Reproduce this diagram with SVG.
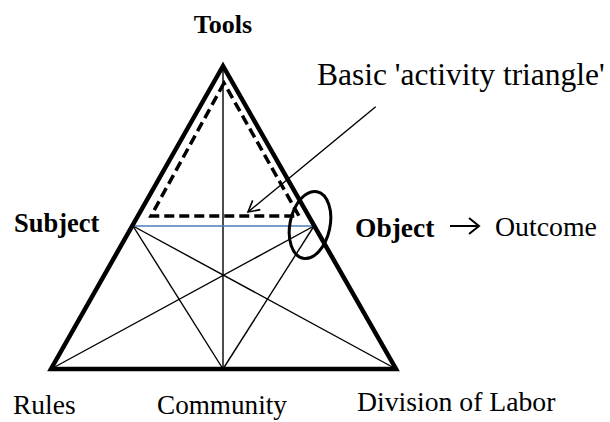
<svg xmlns="http://www.w3.org/2000/svg" width="610" height="422" viewBox="0 0 610 422">
<style>
.t{font-family:"Liberation Serif","Times New Roman",Times,serif;fill:#000}
.b{font-weight:bold}
.thin{stroke:#000;stroke-width:1.4;fill:none}
</style>
<defs>
<marker id="open" markerWidth="14" markerHeight="14" refX="12" refY="7" orient="auto" markerUnits="userSpaceOnUse">
<path d="M1,1 L12,7 L1,13" fill="none" stroke="#000" stroke-width="1.6"/>
</marker>
</defs>
<rect width="610" height="422" fill="#fff"/>
<g id="connectors">
<line class="thin" x1="223" y1="66" x2="223" y2="369"/>
<line class="thin" x1="133" y1="226" x2="223" y2="369"/>
<line class="thin" x1="133" y1="226" x2="396" y2="369"/>
<line class="thin" x1="314" y1="226" x2="223" y2="369"/>
<line class="thin" x1="314" y1="226" x2="51" y2="369"/>
<line x1="133" y1="226" x2="314" y2="226" stroke="#4a7ebb" stroke-width="1.6"/>
<polygon points="224,83 151,216 299,216" fill="none" stroke="#000" stroke-width="3.5" stroke-dasharray="10,5"/>
<polygon points="223,66 51,369 396,369" fill="none" stroke="#000" stroke-width="4.5" stroke-linejoin="miter"/>
<line x1="375.7" y1="106.7" x2="248" y2="212" stroke="#000" stroke-width="1.4" marker-end="url(#open)"/>
<ellipse cx="310" cy="225" rx="20" ry="34" transform="rotate(12 310 225)" fill="none" stroke="#000" stroke-width="3"/>
<path d="M450,226 H479 M469,218 L479,226 L469,234" fill="none" stroke="#000" stroke-width="2"/>
</g>
<g id="tools"><text class="t b" x="223" y="33" font-size="26" text-anchor="middle" font-family="Liberation Serif, serif">Tools</text></g>
<g id="subject"><text class="t b" x="14" y="232" font-size="26.5" font-family="Liberation Serif, serif">Subject</text></g>
<g id="object"><text class="t b" x="355" y="237" font-size="27.5" font-family="Liberation Serif, serif">Object</text></g>
<g id="outcome"><text class="t" x="495" y="236" font-size="27.8" font-family="Liberation Serif, serif">Outcome</text></g>
<g id="basic"><text class="t" x="317" y="85" font-size="31.5" font-family="Liberation Serif, serif">Basic 'activity triangle'</text></g>
<g id="rules"><text class="t" x="13" y="414" font-size="27.5" font-family="Liberation Serif, serif">Rules</text></g>
<g id="community"><text class="t" x="157" y="414" font-size="27.2" font-family="Liberation Serif, serif">Community</text></g>
<g id="division"><text class="t" x="357" y="411" font-size="27.7" font-family="Liberation Serif, serif">Division of Labor</text></g>
</svg>
